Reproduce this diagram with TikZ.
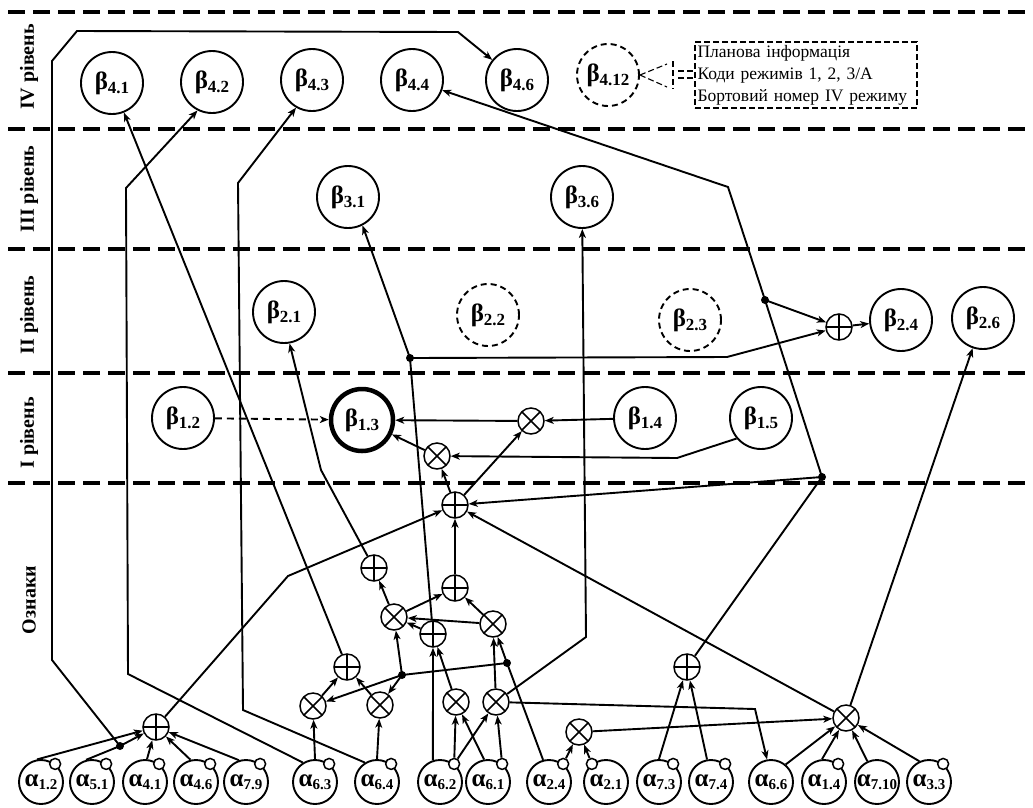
\documentclass[tikz,border=0pt]{standalone}
\usepackage{fontspec}
\setmainfont{Liberation Serif}
\usetikzlibrary{arrows.meta,calc}
\newcommand\bLab[1]{{\fontsize{25}{25}\selectfont β}\raisebox{-4pt}{\fontsize{17}{17}\selectfont #1}}
\newcommand\aLab[1]{{\fontsize{25}{25}\selectfont α}\raisebox{-3pt}{\fontsize{15}{15}\selectfont #1}}
\begin{document}
\begin{tikzpicture}[x=1pt,y=-1pt,
  every node/.style={inner sep=0pt},
  beta/.style={circle,draw,line width=1.9pt,minimum size=62pt,font=\bfseries},
  betad/.style={beta,dash pattern=on 6pt off 4pt},
  alfa/.style={circle,draw,line width=1.9pt,minimum size=44pt,font=\bfseries},
  pinc/.style={circle,draw,fill=white,line width=1.5pt,minimum size=11pt},
  opplus/.style={circle,draw,line width=1.5pt,minimum size=26pt,path picture={\draw[line width=1.5pt] (path picture bounding box.north)--(path picture bounding box.south) (path picture bounding box.west)--(path picture bounding box.east);}},
  optimes/.style={circle,draw,line width=1.5pt,minimum size=26pt,path picture={\draw[line width=1.5pt] (path picture bounding box.north west)--(path picture bounding box.south east) (path picture bounding box.north east)--(path picture bounding box.south west);}},
  dotn/.style={circle,fill,minimum size=8pt},
  conn/.style={line width=1.9pt},
  arr/.style={conn,-{Stealth[length=9pt,width=7pt,inset=2.5pt]}},
  levelline/.style={dash pattern=on 17pt off 8pt,line width=3.4pt},
  lvl/.style={rotate=90,font=\bfseries\fontsize{20}{20}\selectfont},
  dsh/.style={line width=1.1pt,dash pattern=on 6pt off 3pt}
]
\fill[white] (0,0) rectangle (1033,807);
\path[use as bounding box] (0,0) rectangle (1033,807);

% level separators
\foreach \yy in {12,129,249,373,483} \draw[levelline] (8,\yy) -- (1033,\yy);

% level labels
\node[lvl] (L4) at (29,67) {IV рівень};
\node[lvl] (L3) at (29,189) {III рівень};
\node[lvl] (L2) at (29,315) {II рівень};
\node[lvl] (L1) at (29,433) {I рівень};
\node[lvl] (L0) at (29,600) {Ознаки};

% beta nodes
\node[beta] (b41) at (112,83) {\bLab{4.1}};
\node[beta] (b42) at (212,82) {\bLab{4.2}};
\node[beta] (b43) at (312,80) {\bLab{4.3}};
\node[beta] (b44) at (412,80) {\bLab{4.4}};
\node[beta] (b46) at (517,80) {\bLab{4.6}};
\node[betad] (b412) at (608,75) {\bLab{4.12}};
\node[beta] (b31) at (348,197) {\bLab{3.1}};
\node[beta] (b36) at (582,197) {\bLab{3.6}};
\node[beta] (b21) at (284,312) {\bLab{2.1}};
\node[betad] (b22) at (488,315) {\bLab{2.2}};
\node[betad] (b23) at (690,320) {\bLab{2.3}};
\node[beta] (b24) at (901,320) {\bLab{2.4}};
\node[beta] (b26) at (983,318) {\bLab{2.6}};
\node[beta] (b12) at (183,418) {\bLab{1.2}};
\node[beta,line width=4.5pt] (b13) at (362,420) {\bLab{1.3}};
\node[beta] (b14) at (645,418) {\bLab{1.4}};
\node[beta] (b15) at (761,418) {\bLab{1.5}};

% info box
\node[draw,dsh,align=left,font=\fontsize{17.5}{22}\selectfont,inner sep=2pt,
      minimum width=222pt,minimum height=66pt,text width=217pt] (info) at (806,75)
  {Планова інформація\\Коди режимів 1, 2, 3/A\\Бортовий номер IV режиму};
\coordinate (c1) at (667,64);
\coordinate (c2) at (667,87);
\draw[dsh] (b412.east) -- (c1) (b412.east) -- (c2);
\draw[dsh] (673,61) -- (673,89);
\draw[dsh] (678,71) -- (info.west |- 0,71) (678,78) -- (info.west |- 0,78);

% operators
\node[opplus] (s24) at (839,327) {};
\node[optimes] (m1) at (531,421) {};
\node[optimes] (m2) at (437,456) {};
\node[opplus] (sM) at (455,505) {};
\node[opplus] (sL) at (374,568) {};
\node[opplus] (sMid) at (455,588) {};
\node[optimes] (mA) at (394,617) {};
\node[opplus] (sB) at (433,634) {};
\node[optimes] (mC) at (493,624) {};
\node[opplus] (sD) at (347,667) {};
\node[optimes] (mE) at (313,706) {};
\node[optimes] (mF) at (380,705) {};
\node[optimes] (mG) at (456,702) {};
\node[optimes] (mH) at (496,702) {};
\node[optimes] (mI) at (579,732) {};
\node[opplus] (sJ) at (687,667) {};
\node[optimes] (mK) at (846,718) {};
\node[opplus] (sBot) at (156,727) {};

% dots
\node[dotn] (d1) at (402,675) {};
\node[dotn] (d2) at (507,663) {};
\node[dotn] (d3) at (822,477) {};
\node[dotn] (d4) at (765,300) {};
\node[dotn] (d5) at (410,358) {};
\node[dotn] (d6) at (120,746) {};

% alpha nodes
\node[alfa] (a12) at (41,782) {\aLab{1.2}};
\node[alfa] (a51) at (92,782) {\aLab{5.1}};
\node[alfa] (a41) at (145,782) {\aLab{4.1}};
\node[alfa] (a46) at (196,782) {\aLab{4.6}};
\node[alfa] (a79) at (246,782) {\aLab{7.9}};
\node[alfa] (a63) at (315,782) {\aLab{6.3}};
\node[alfa] (a64) at (377,782) {\aLab{6.4}};
\node[alfa] (a62) at (440,782) {\aLab{6.2}};
\node[alfa] (a61) at (488,782) {\aLab{6.1}};
\node[alfa] (a24) at (549,782) {\aLab{2.4}};
\node[alfa] (a21) at (606,782) {\aLab{2.1}};
\node[alfa] (a73) at (659,782) {\aLab{7.3}};
\node[alfa] (a74) at (711,782) {\aLab{7.4}};
\node[alfa] (a66) at (771,782) {\aLab{6.6}};
\node[alfa] (a14) at (824,782) {\aLab{1.4}};
\node[alfa] (a710) at (877,782) {\aLab{7.10}};
\node[alfa] (a33) at (929,782) {\aLab{3.3}};
\foreach \n in {a12,a51,a41,a46,a79,a63,a64,a62,a61,a24,a73,a74,a14,a33}
  \node[pinc] (p\n) at (\n.52) {};
\node[pinc] (pa21) at (a21.128) {};

% ---- connectors ----
% bottom adder
\draw[arr] (a12.100) -- (sBot);
\draw[arr] (a51.105) -- (d6.center) -- (sBot);
\draw[arr] (a41.85) -- (sBot);
\draw[arr] (a46.104) -- (sBot);
\draw[arr] (a79.108) -- (sBot);
\draw[arr] (d6.center) -- (52,660) -- (52,61) -- (77,31) -- (458,32) -- (b46);
\draw[arr] (sBot) -- (288,576) -- (sM);

% alpha 6.3 / 6.4
\draw[arr] (a63.north) -- (mE);
\draw[arr] (a63.122) -- (128,674) -- (126,188) -- (b42.243);
\draw[arr] (a64.north) -- (mF);
\draw[arr] (a64.122) -- (243,710) -- (238,183) -- (b43.240);
\draw[arr] (mE) -- (sD);
\draw[arr] (mF) -- (sD);
\draw[arr] (sD) -- (b41.-68);

% alpha 2.4 branch
\draw[arr] (a24.105) -- (d2.center) -- (mC);
\draw[conn] (d2.center) -- (d1.center);
\draw[arr] (d1.center) -- (mE);
\draw[arr] (d1.center) -- (mF);
\draw[arr] (d1.center) -- (mA);

% middle tree
\draw[arr] (mC) -- (mA);
\draw[arr] (sB) -- (mA);
\draw[arr] (mA) -- (sL);
\draw[arr] (mA) -- (sMid);
\draw[arr] (mC) -- (sMid);
\draw[arr] (sMid) -- (sM);
\draw[arr] (sL) -- (321,470) -- (b21.280);

% alpha 6.2 / 6.1
\draw[arr] (a62.108) -- (sB);
\draw[arr] (pa62) -- (mG);
\draw[arr] (pa62) -- (mH);
\draw[arr] (a61.100) -- (mG);
\draw[arr] (pa61) -- (mH);
\draw[arr] (mG) -- (sB);
\draw[arr] (mH) -- (mC);
\draw[arr] (mH) -- (586,637) -- (b36);
\draw[arr] (mH) -- (755,709) -- (a66.100);

% sB up to beta 3.1 and adder near beta 2.4
\draw[arr] (sB) -- (d5.center) -- (b31.297);
\draw[arr] (d5.center) -- (727,357) -- (s24);

% main adder inputs
\draw[arr] (d3.center) -- (sM);
\draw[arr] (mK) -- (sM);
\draw[conn] (sJ) -- (d3.center);
\draw[arr] (d3.center) -- (d4.center) -- (728,187) -- (b44);
\draw[arr] (d4.center) -- (s24);
\draw[arr] (s24) -- (b24);

% level I
\draw[arr] (sM) -- (m2);
\draw[arr] (sM) -- (m1);
\draw[arr] (m2) -- (b13);
\draw[arr] (m1) -- (b13);
\draw[arr] (b14) -- (m1);
\draw[arr] (b15.220) -- (677,458) -- (m2);
\draw[arr,dash pattern=on 7pt off 5pt] (b12) -- (b13);

% right part
\draw[arr] (a73.north) -- (sJ);
\draw[arr] (a74.100) -- (sJ);
\draw[arr] (pa24) -- (mI);
\draw[arr] (pa21) -- (mI);
\draw[arr] (mI) -- (mK);
\draw[arr] (a66.50) -- (mK);
\draw[arr] (a14.95) -- (mK);
\draw[arr] (a710.115) -- (mK);
\draw[arr] (a33.115) -- (mK);
\draw[arr] (mK) -- (b26);
\end{tikzpicture}
\end{document}
